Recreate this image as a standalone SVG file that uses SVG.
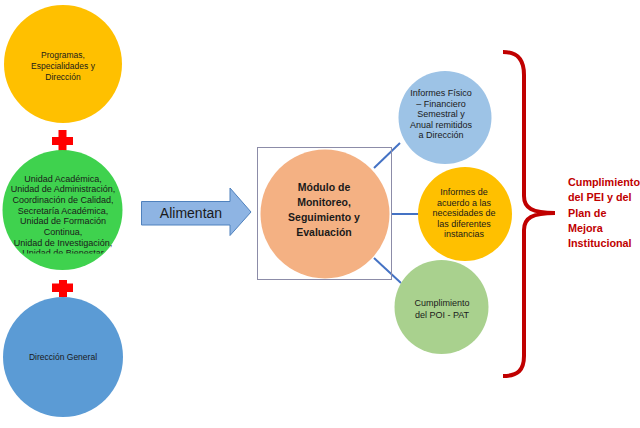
<svg xmlns="http://www.w3.org/2000/svg" width="640" height="428" viewBox="0 0 640 428">
<style>
text{font-family:"Liberation Sans",Arial,sans-serif;fill:#1a1a1a;text-anchor:middle}
.s{font-size:9px}
.sm{font-size:8.5px}
.b{font-size:10.5px;font-weight:bold}
.r{font-size:10.8px;font-weight:bold;fill:#C00000;text-anchor:start}
.plus{fill:#FF0000}
.conn{stroke:#4472C4;stroke-width:2;fill:none}
</style>
<defs>
<clipPath id="gclip"><rect x="0" y="150" width="130" height="103.5"/></clipPath>
</defs>
<rect width="640" height="428" fill="#ffffff"/>
<g id="programas">
<circle cx="63" cy="64" r="59" fill="#FFC000"/>
<text class="sm" x="63" y="58">Programas,</text>
<text class="sm" x="63" y="69">Especialidades y</text>
<text class="sm" x="63" y="80">Dirección</text>
</g>
<g id="plus1"><rect class="plus" x="52" y="137" width="21" height="8"/><rect class="plus" x="58.5" y="130" width="8" height="23"/></g>
<g id="unidades">
<circle cx="62.5" cy="210" r="60" fill="#3FD24E"/>
<g clip-path="url(#gclip)">
<text class="s" x="63" y="181.5">Unidad Académica,</text>
<text class="s" x="63" y="192.2">Unidad de Administración,</text>
<text class="s" x="63" y="202.9">Coordinación de Calidad,</text>
<text class="s" x="63" y="213.6">Secretaría Académica,</text>
<text class="s" x="63" y="224.3">Unidad de Formación</text>
<text class="s" x="63" y="235">Continua,</text>
<text class="s" x="63" y="245.7">Unidad de Investigación,</text>
<text class="s" x="63" y="256.4">Unidad de Bienestar</text>
</g>
</g>
<g id="plus2"><rect class="plus" x="52" y="283.5" width="21" height="8.5"/><rect class="plus" x="59" y="280" width="8" height="17"/></g>
<g id="direccion">
<circle cx="63" cy="357" r="60" fill="#5B9BD5"/>
<text class="sm" x="63" y="359.5">Dirección General</text>
</g>
<g id="alimentan">
<path d="M141.5,201.5 H230 V188 L251,212 L230,235.5 V225 H141.5 Z" fill="#8EB4E3" stroke="#4F81BD" stroke-width="1"/>
<text x="191" y="217.5" style="font-size:14px">Alimentan</text>
</g>
<g id="connectors">
<line class="conn" x1="374" y1="168" x2="400" y2="143"/>
<line class="conn" x1="391" y1="214" x2="420" y2="214"/>
<line class="conn" x1="374" y1="258" x2="401" y2="283"/>
</g>
<g id="modulo">
<rect x="257.5" y="147.5" width="134" height="132" fill="none" stroke="#8C8CA8" stroke-width="1"/>
<circle cx="325" cy="214" r="64.5" fill="#F4B183"/>
<text class="b" x="324" y="190.5">Módulo de</text>
<text class="b" x="324" y="205.5">Monitoreo,</text>
<text class="b" x="324" y="220.5">Seguimiento y</text>
<text class="b" x="324" y="236">Evaluación</text>
</g>
<g id="informes-fisico">
<circle cx="445" cy="117.5" r="46.5" fill="#9DC3E6"/>
<text class="s" x="441" y="96">Informes Físico</text>
<text class="s" x="441" y="106.5">– Financiero</text>
<text class="s" x="441" y="117">Semestral y</text>
<text class="s" x="441" y="127.5">Anual remitidos</text>
<text class="s" x="441" y="138">a Dirección</text>
</g>
<g id="informes-acuerdo">
<circle cx="465" cy="214" r="47" fill="#FFC000"/>
<text class="s" x="464" y="195">Informes de</text>
<text class="s" x="464" y="205.5">acuerdo a las</text>
<text class="s" x="464" y="216">necesidades de</text>
<text class="s" x="464" y="226.5">las diferentes</text>
<text class="s" x="464" y="237">instancias</text>
</g>
<g id="cumplimiento-poi">
<circle cx="441.5" cy="307" r="47" fill="#A9D18E"/>
<text class="s" x="442" y="306">Cumplimiento</text>
<text class="s" x="442" y="318">del POI - PAT</text>
</g>
<g id="brace">
<path d="M503,52 C518,52 524,60 524,75 V196 C524,208 532,213 555,213 C532,213 524,218 524,230 V356 C524,370 518,376 503,376" fill="none" stroke="#C00000" stroke-width="4"/>
</g>
<g id="cumplimiento-pei">
<text class="r" x="568" y="186">Cumplimiento</text>
<text class="r" x="568" y="201.3">del PEI y del</text>
<text class="r" x="568" y="216.6">Plan de</text>
<text class="r" x="568" y="231.9">Mejora</text>
<text class="r" x="568" y="247.2">Institucional</text>
</g>
</svg>
